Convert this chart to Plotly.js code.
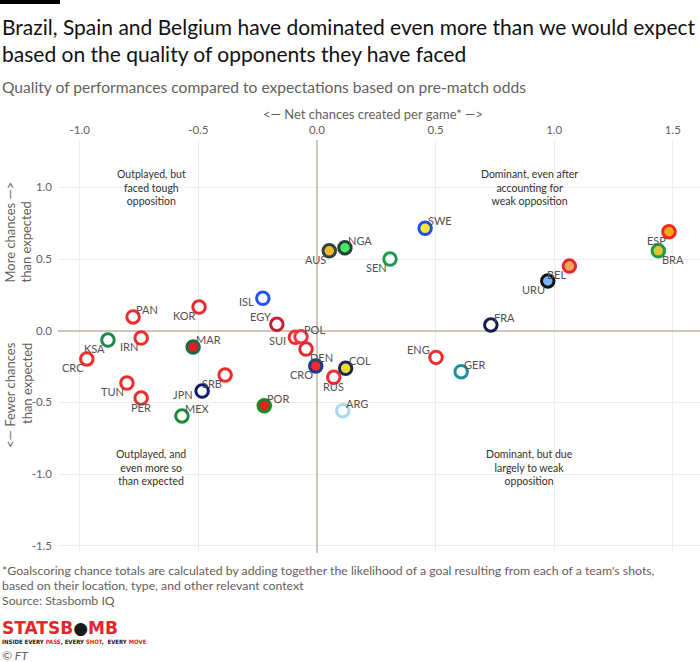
<!DOCTYPE html>
<html>
<head>
<meta charset="utf-8">
<script src="https://cdn.plot.ly/plotly-3.0.1.min.js"></script>
<style>html,body{margin:0;padding:0;background:#fff;}#chart{width:700px;height:662px;}</style>
</head>
<body>
<div id="chart"></div>
<script>
// ---- data ----
const teams = ["SUI","POL","DEN","CRO","RUS","COL","AUS","NGA","SEN","SWE","FRA","URU","BEL","BRA","ESP","ENG","GER","ARG","EGY","ISL","KOR","PAN","IRN","KSA","CRC","MAR","SRB","JPN","TUN","PER","MEX","POR"];
const netChances = [-0.091,-0.067,-0.046,-0.005,0.071,0.121,0.052,0.118,0.308,0.456,0.733,0.973,1.064,1.439,1.484,0.502,0.608,0.109,-0.169,-0.228,-0.497,-0.775,-0.741,-0.881,-0.970,-0.522,-0.387,-0.484,-0.801,-0.741,-0.569,-0.222];
const vsExpected = [-0.046,-0.042,-0.128,-0.246,-0.325,-0.262,0.558,0.579,0.500,0.715,0.040,0.347,0.451,0.558,0.691,-0.186,-0.286,-0.558,0.045,0.226,0.165,0.096,-0.051,-0.065,-0.197,-0.114,-0.309,-0.421,-0.365,-0.470,-0.595,-0.523];
const xTickVals = [-1.0,-0.5,0.0,0.5,1.0,1.5];
const xTickText = ["-1.0","-0.5","0.0","0.5","1.0","1.5"];
const yTickVals = [-1.5,-1.0,-0.5,0.0,0.5,1.0];
const yTickText = ["-1.5","-1.0","-0.5","0.0","0.5","1.0"];

// ---- styles (per team: fill, outline, label placement) ----
const W_ = "#ffffff", RED = "#f22b2b";
const teamStyle = {
  SUI:[W_,RED,"ml"], POL:[W_,"#f03540","tr"], DEN:[W_,"#e82833","br"], CRO:["#ee2a2e","#1c3a8a","bl"],
  RUS:[W_,RED,"bc"], COL:["#f1dc33","#1a2a55","tr"], AUS:["#f8b62d","#2c4542","bl"], NGA:["#47e863","#27403a","tr"],
  SEN:[W_,"#1d9a50","bl"], SWE:["#fde53a","#1f4fe0","tr"], FRA:[W_,"#0d1f4a","tr"], URU:["#78b4f8","#111111","bl"],
  BEL:["#eea75a","#e8262e","bl"], BRA:["#e3c42e","#1f9a48","br"], ESP:["#f7a823","#f5281e","bl"], ENG:[W_,"#ee2a35","tl"],
  GER:[W_,"#1f8ea0","tr"], ARG:[W_,"#a9d8f2","tr"], EGY:[W_,"#c51f32","tl"], ISL:[W_,"#2153ff","ml"],
  KOR:[W_,"#ee2a30","bl"], PAN:[W_,RED,"tr"], IRN:[W_,RED,"bl"], KSA:[W_,"#1f8a48","bl"],
  CRC:[W_,RED,"bl"], MAR:["#e02020","#1d6a45","tr"], SRB:[W_,RED,"bl"], JPN:[W_,"#0b1c6e","ml"],
  TUN:[W_,RED,"bl"], PER:[W_,RED,"bc"], MEX:[W_,"#1f8a3e","tr"], POR:["#e8201f","#138a22","tr"]
};
const placement = {
  tr:{xanchor:"left",  yanchor:"bottom", xshift:1,  yshift:-1},
  tl:{xanchor:"right", yanchor:"bottom", xshift:-4, yshift:-1},
  bl:{xanchor:"right", yanchor:"top",    xshift:-1, yshift:0},
  br:{xanchor:"left",  yanchor:"top",    xshift:2,  yshift:0},
  bc:{xanchor:"center",yanchor:"top",    xshift:0,  yshift:-1},
  ml:{xanchor:"right", yanchor:"middle", xshift:-7, yshift:-3}
};

const FONT = "Lato, 'Open Sans', sans-serif";
const GREY = "#66605c";
const L = 58, T = 140, PW = 642, PH = 413;
const pxX = x => (x - L) / PW;
const pxY = y => (T + PH - y) / PH;

const markerTrace = {
  type: "scatter", mode: "markers",
  x: netChances, y: vsExpected, text: teams,
  marker: {
    size: 12.5,
    color: teams.map(t => teamStyle[t][0]),
    line: {width: 3, color: teams.map(t => teamStyle[t][1])}
  },
  hoverinfo: "text", cliponaxis: false
};

const labelAnns = teams.map((t, i) => Object.assign({
  x: netChances[i], y: vsExpected[i], xref: "x", yref: "y",
  text: t, showarrow: false,
  font: {family: FONT, size: 11, color: "#555150"}
}, placement[teamStyle[t][2]]));

const textAnn = (text, x, y, opts) => Object.assign({
  text: text, x: pxX(x), y: pxY(y), xref: "paper", yref: "paper", showarrow: false
}, opts);

const anns = [
  textAnn("Brazil, Spain and Belgium have dominated even more than we would expect", 0, 26,
    {xanchor:"left", yanchor:"middle", font:{family:FONT, size:21, color:"#111"}}),
  textAnn("based on the quality of opponents they have faced", 0, 53,
    {xanchor:"left", yanchor:"middle", font:{family:FONT, size:21, color:"#111"}}),
  textAnn("Quality of performances compared to expectations based on pre-match odds", 0, 87,
    {xanchor:"left", yanchor:"middle", font:{family:FONT, size:15.6, color:GREY}}),
  textAnn("<— Net chances created per game* —>", 373, 114,
    {xanchor:"center", yanchor:"middle", font:{family:FONT, size:13, color:GREY}}),
  textAnn("More chances —><br>than expected", 18, 285,
    {xanchor:"center", yanchor:"bottom", textangle:-90, align:"left", font:{family:FONT, size:13, color:GREY}}),
  textAnn("<— Fewer chances<br>than expected", 18, 340,
    {xanchor:"center", yanchor:"top", textangle:-90, align:"right", font:{family:FONT, size:13, color:GREY}}),
  textAnn("Outplayed, but<br>faced tough<br>opposition", 151, 187,
    {xanchor:"center", yanchor:"middle", font:{family:FONT, size:10.5, color:"#33302e"}}),
  textAnn("Dominant, even after<br>accounting for<br>weak opposition", 529, 187,
    {xanchor:"center", yanchor:"middle", font:{family:FONT, size:10.5, color:"#33302e"}}),
  textAnn("Outplayed, and<br>even more so<br>than expected", 151, 467,
    {xanchor:"center", yanchor:"middle", font:{family:FONT, size:10.5, color:"#33302e"}}),
  textAnn("Dominant, but due<br>largely to weak<br>opposition", 529, 467,
    {xanchor:"center", yanchor:"middle", font:{family:FONT, size:10.5, color:"#33302e"}}),
  textAnn("*Goalscoring chance totals are calculated by adding together the likelihood of a goal resulting from each of a team's shots,", 0, 570,
    {xanchor:"left", yanchor:"middle", font:{family:FONT, size:12.3, color:GREY}}),
  textAnn("based on their location, type, and other relevant context", 0, 585,
    {xanchor:"left", yanchor:"middle", font:{family:FONT, size:12.3, color:GREY}}),
  textAnn("Source: Stasbomb IQ", 0, 600,
    {xanchor:"left", yanchor:"middle", font:{family:FONT, size:12.3, color:GREY}}),
  textAnn('<b><span style="color:#e4262d">STATSB</span><span style="color:#1a1a1a">●</span><span style="color:#e4262d">MB</span></b>', 0, 628,
    {xanchor:"left", yanchor:"middle", font:{family:"'DejaVu Sans', sans-serif", size:17, color:"#e4262d"}}),
  textAnn('<b>INSIDE EVERY <span style="color:#e4262d">PASS</span>, EVERY <span style="color:#e4262d">SHOT</span>,  EVERY <span style="color:#e4262d">MOVE</span></b>', 0, 641,
    {xanchor:"left", yanchor:"middle", font:{family:"'DejaVu Sans Condensed', 'DejaVu Sans', sans-serif", size:6, color:"#222"}}),
  textAnn("<i>© FT</i>", 0, 655,
    {xanchor:"left", yanchor:"middle", font:{family:FONT, size:12, color:GREY}})
].concat(labelAnns);

const axisCommon = {
  showgrid: true, gridcolor: "#f1ece6", gridwidth: 1,
  zeroline: true, zerolinecolor: "#cfc7bc", zerolinewidth: 2,
  showline: false, ticks: "", fixedrange: true,
  tickfont: {family: FONT, size: 11.5, color: GREY}
};

const layout = {
  width: 700, height: 662,
  margin: {l: L, r: 700 - L - PW, t: T, b: 662 - T - PH, pad: 0},
  paper_bgcolor: "#ffffff", plot_bgcolor: "#ffffff",
  showlegend: false,
  font: {family: FONT},
  xaxis: Object.assign({}, axisCommon, {
    range: [-1.0915, 1.6147], side: "top",
    tickmode: "array", tickvals: xTickVals, ticktext: xTickText, ticklabelstandoff: 3
  }),
  yaxis: Object.assign({}, axisCommon, {
    range: [-1.551, 1.331],
    tickmode: "array", tickvals: yTickVals, ticktext: yTickText, ticklabelstandoff: 5
  }),
  shapes: [{
    type: "rect", xref: "paper", yref: "paper",
    x0: pxX(0), x1: pxX(60), y0: pxY(4), y1: pxY(0),
    fillcolor: "#000", line: {width: 0}
  }],
  annotations: anns
};

Plotly.newPlot("chart", [markerTrace], layout, {displayModeBar: false, staticPlot: true});
</script>
</body>
</html>
